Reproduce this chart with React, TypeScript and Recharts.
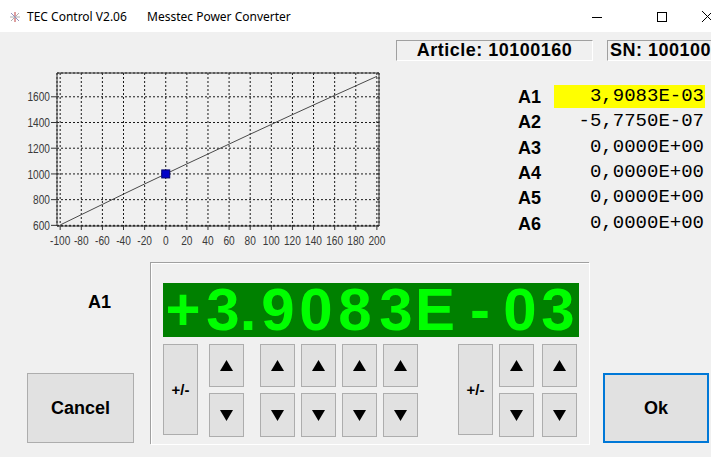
import React from 'react';
import {
	ComposedChart,
	Line,
	Scatter,
	XAxis,
	YAxis,
	CartesianGrid,
	ReferenceArea,
} from 'recharts';

// Pt1000 curve: temperature (°C) vs resistance (Ohm)
const tempC = [-100, -80, -60, -40, -20, 0, 20, 40, 60, 80, 100, 120, 140, 160, 180, 200];
const resistance = [603, 683, 763, 843, 922, 1000, 1078, 1155, 1232, 1309, 1385, 1461, 1536, 1611, 1685, 1759];

const markerX = [0];
const markerY = [1000];

const xTicks = [-100, -80, -60, -40, -20, 0, 20, 40, 60, 80, 100, 120, 140, 160, 180, 200];
const yTicks = [600, 800, 1000, 1200, 1400, 1600];

const coefNames = ['A1', 'A2', 'A3', 'A4', 'A5', 'A6'];
const coefValues = ['3,9083E-03', '-5,7750E-07', '0,0000E+00', '0,0000E+00', '0,0000E+00', '0,0000E+00'];

const displayChars = ['+', '3', '.', '9', '0', '8', '3', 'E', '-', '0', '3'];
const displayCenters = [183, 223, 248, 278, 316, 355, 396, 435, 480, 520, 558];

const curveData = tempC.map((t, i) => ({ x: t, y: resistance[i] }));
const markerData = markerX.map((t, i) => ({ x: t, y: markerY[i] }));

const uiFont = '"Liberation Sans", Arial, sans-serif';

// narrow tick labels (squeezed sans, like the original Segoe UI)
const NarrowTick = (props: any) => {
	const { x, y, payload, textAnchor, vertical } = props;
	return (
		<g transform={`translate(${x},${y})`}>
			<text
				transform='scale(0.78,1)'
				textAnchor={textAnchor}
				dy={vertical ? '0.355em' : '0.71em'}
				fontSize={13}
				fill='#3a3a3a'
				fontFamily='"Liberation Sans", Arial, sans-serif'
			>
				{payload.value}
			</text>
		</g>
	);
};

const SquareMarker = (props: any) => {
	const { cx, cy } = props;
	if (cx == null || cy == null) return null;
	return <rect x={cx - 4} y={cy - 4} width={8} height={8} fill='#0000c8' stroke='#000070' strokeWidth={1} />;
};

const Triangle = ({ up }: { up: boolean }) => (
	<svg width={13} height={11} style={{ display: 'block' }}>
		<polygon points={up ? '6.5,0 13,11 0,11' : '0,0 13,0 6.5,11'} fill='#000' />
	</svg>
);

const Btn: React.FC<{ x: number; y: number; w: number; h: number; children?: React.ReactNode; blue?: boolean; fs?: number }> = ({
	x, y, w, h, children, blue, fs = 15,
}) => (
	<div
		style={{
			position: 'absolute',
			left: x,
			top: y,
			width: w,
			height: h,
			boxSizing: 'border-box',
			background: '#e1e1e1',
			border: blue ? '2px solid #0078d7' : '1px solid #adadad',
			display: 'flex',
			alignItems: 'center',
			justifyContent: 'center',
			fontFamily: uiFont,
			fontWeight: 'bold',
			fontSize: fs,
			color: '#000',
		}}
	>
		{children}
	</div>
);

const arrowCols = [209, 260, 301, 342, 383, 499, 542];
const signCols = [163, 458];

export default function App() {
	return (
		<div style={{ position: 'fixed', left: 0, top: 0, width: 711, height: 457, background: '#f0f0f0', overflow: 'hidden', fontFamily: uiFont }}>
			{/* title bar */}
			<div style={{ position: 'absolute', left: 0, top: 0, width: 711, height: 32, background: '#fff' }}>
				<svg width={12} height={12} style={{ position: 'absolute', left: 9, top: 11 }}>
					<line x1={1} y1={6} x2={11} y2={6} stroke='#b0b0b0' />
					<line x1={6} y1={1} x2={6} y2={11} stroke='#c04040' />
					<line x1={2} y1={2} x2={10} y2={10} stroke='#9090c0' />
					<line x1={10} y1={2} x2={2} y2={10} stroke='#b0b0b0' />
				</svg>
				<div style={{ position: 'absolute', left: 27, top: 9, fontSize: 12, fontFamily: '"Noto Sans", sans-serif', lineHeight: '16px' }}>TEC Control V2.06</div>
				<div style={{ position: 'absolute', left: 147, top: 9, fontSize: 12, fontFamily: '"Noto Sans", sans-serif', lineHeight: '16px' }}>Messtec Power Converter</div>
				<div style={{ position: 'absolute', left: 592, top: 17, width: 10, height: 1, background: '#000' }} />
				<div style={{ position: 'absolute', left: 657, top: 12, width: 10, height: 10, border: '1px solid #000', boxSizing: 'border-box' }} />
				<svg width={12} height={12} style={{ position: 'absolute', left: 702, top: 11 }}>
					<line x1={0} y1={0} x2={11} y2={11} stroke='#000' />
					<line x1={11} y1={0} x2={0} y2={11} stroke='#000' />
				</svg>
			</div>

			{/* article / SN boxes */}
			<div style={{ position: 'absolute', left: 396, top: 40, width: 197, height: 21, boxSizing: 'border-box', borderTop: '1px solid #a0a0a0', borderLeft: '1px solid #a0a0a0', borderBottom: '1px solid #fff', borderRight: '1px solid #fff', textAlign: 'center', fontWeight: 'bold', fontSize: 18, letterSpacing: 0.5, lineHeight: '19px' }}>
				Article: 10100160
			</div>
			<div style={{ position: 'absolute', left: 607, top: 40, width: 140, height: 21, boxSizing: 'border-box', borderTop: '1px solid #a0a0a0', borderLeft: '1px solid #a0a0a0', borderBottom: '1px solid #fff', paddingLeft: 2, fontWeight: 'bold', fontSize: 18, letterSpacing: 0.5, lineHeight: '19px', whiteSpace: 'nowrap' }}>
				SN: 100100
			</div>

			{/* chart */}
			<div style={{ position: 'absolute', left: 0, top: 60 }}>
				<ComposedChart width={390} height={195} data={curveData} margin={{ top: 13, right: 11, left: 0, bottom: 9 }}>
					<CartesianGrid stroke='#1a1a1a' strokeDasharray='2 2' />
					<XAxis
						type='number'
						dataKey='x'
						domain={[-103, 202]}
						ticks={xTicks}
						interval={0}
						allowDataOverflow
						axisLine={false}
						tickLine={{ stroke: '#333' }}
						tickSize={4}
						tickMargin={6}
						height={20}
						tick={<NarrowTick />}
					/>
					<YAxis
						type='number'
						dataKey='y'
						domain={[595, 1785]}
						ticks={yTicks}
						interval={0}
						allowDataOverflow
						axisLine={false}
						tickLine={{ stroke: '#333' }}
						tickSize={6}
						tickMargin={1}
						width={57}
						tick={<NarrowTick vertical />}
					/>
					<ReferenceArea x1={-103} x2={202} y1={595} y2={1785} fill='none' stroke='#333' strokeWidth={1} ifOverflow='visible' />
					<Line type='linear' dataKey='y' stroke='#4a4a4a' strokeWidth={1} dot={false} isAnimationActive={false} />
					<Scatter data={markerData} dataKey='y' shape={SquareMarker} isAnimationActive={false} />
				</ComposedChart>
			</div>

			{/* coefficients */}
			{coefNames.map((n, i) => (
				<React.Fragment key={n}>
					<div style={{ position: 'absolute', left: 518, top: 86 + i * 25.3, height: 22, lineHeight: '22px', fontWeight: 'bold', fontSize: 18 }}>{n}</div>
					<div
						style={{
							position: 'absolute',
							left: 554,
							top: 85 + i * 25.3,
							width: 151,
							height: 23,
							lineHeight: '23px',
							background: i === 0 ? '#ffff00' : 'transparent',
							textAlign: 'right',
							fontFamily: '"Liberation Mono", "Courier New", monospace',
							fontSize: 19,
							whiteSpace: 'nowrap',
							paddingRight: 1,
							boxSizing: 'border-box',
						}}
					>
						{coefValues[i]}
					</div>
				</React.Fragment>
			))}

			{/* bottom */}
			<div style={{ position: 'absolute', left: 88, top: 291, fontWeight: 'bold', fontSize: 18, lineHeight: '22px' }}>A1</div>

			<div style={{ position: 'absolute', left: 150, top: 262, width: 439, height: 182, boxSizing: 'border-box', borderTop: '1px solid #a0a0a0', borderLeft: '1px solid #a0a0a0', boxShadow: 'inset 1px 1px 0 #fff, 1px 1px 0 #fff' }} />

			<div style={{ position: 'absolute', left: 163, top: 283, width: 416, height: 54, background: '#008000' }}>
				{displayChars.map((c, i) => (
					<div
						key={i}
						style={{
							position: 'absolute',
							left: displayCenters[i] - 163,
							top: 1,
							transform: 'translateX(-50%)',
							color: '#00ff00',
							fontWeight: 'bold',
							fontSize: 60,
							lineHeight: '52px',
						}}
					>
						{c}
					</div>
				))}
			</div>

			{signCols.map(x => (
				<Btn key={x} x={x} y={344} w={35} h={91} fs={15}>+/-</Btn>
			))}
			{arrowCols.map(x => (
				<React.Fragment key={x}>
					<Btn x={x} y={344} w={35} h={43}><Triangle up /></Btn>
					<Btn x={x} y={393} w={35} h={44}><Triangle up={false} /></Btn>
				</React.Fragment>
			))}

			<Btn x={27} y={373} w={107} h={70} fs={18}>Cancel</Btn>
			<Btn x={603} y={373} w={106} h={70} fs={18} blue>Ok</Btn>
		</div>
	);
}
